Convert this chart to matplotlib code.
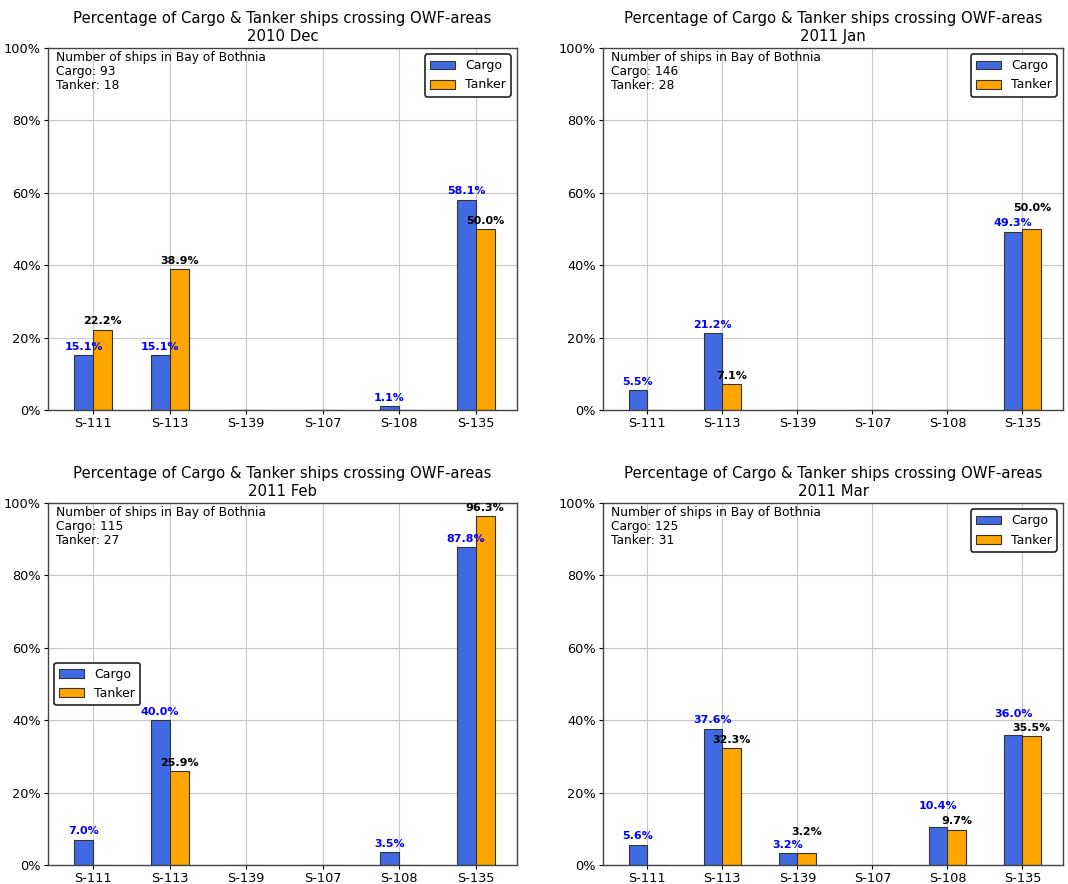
import numpy as np
import matplotlib
matplotlib.use('Agg')
import matplotlib.pyplot as plt
from matplotlib.ticker import PercentFormatter

areas = ['S-111', 'S-113', 'S-139', 'S-107', 'S-108', 'S-135']
months = ['2010 Dec', '2011 Jan', '2011 Feb', '2011 Mar']

cargo_dec = [15.1, 15.1, 0, 0, 1.1, 58.1]
tanker_dec = [22.2, 38.9, 0, 0, 0, 50.0]
cargo_jan = [5.5, 21.2, 0, 0, 0, 49.3]
tanker_jan = [0, 7.1, 0, 0, 0, 50.0]
cargo_feb = [7.0, 40.0, 0, 0, 3.5, 87.8]
tanker_feb = [0, 25.9, 0, 0, 0, 96.3]
cargo_mar = [5.6, 37.6, 3.2, 0, 10.4, 36.0]
tanker_mar = [0, 32.3, 3.2, 0, 9.7, 35.5]

n_cargo = [93, 146, 115, 125]
n_tanker = [18, 28, 27, 31]

cargoAll = [cargo_dec, cargo_jan, cargo_feb, cargo_mar]
tankerAll = [tanker_dec, tanker_jan, tanker_feb, tanker_mar]
legendLoc = ['upper right', 'upper right', 'center left', 'upper right']

W, H = 1068, 884
fig = plt.figure(figsize=(W / 100, H / 100), dpi=100)

# axes boxes in pixels: left, top, right, bottom
boxes = [(48, 48, 517, 410), (603, 48, 1063, 410),
         (48, 503, 517, 865), (603, 503, 1063, 865)]

width = 0.25
x = np.arange(len(areas))

for i, month in enumerate(months):
    l, t, r, b = boxes[i]
    ax = fig.add_axes([l / W, 1 - b / H, (r - l) / W, (b - t) / H])
    cargo = np.array(cargoAll[i])
    tanker = np.array(tankerAll[i])

    ax.bar(x - width / 2, cargo, width, color='royalblue', edgecolor='#333333',
           linewidth=0.8, label='Cargo')
    ax.bar(x + width / 2, tanker, width, color='orange', edgecolor='#333333',
           linewidth=0.8, label='Tanker')

    for j in range(len(areas)):
        c, tk = cargo[j], tanker[j]
        # push the higher label up when the two bars are nearly equal
        close = c > 0 and tk > 0 and abs(c - tk) < 3
        cBump = 9 if (close and c > tk) else 0
        tBump = 9 if (close and tk >= c) else 0
        if c > 0:
            ax.annotate('%.1f%%' % c, (x[j] - width / 2, c), xytext=(0, 2.5 + cBump),
                        textcoords='offset points', ha='center', va='bottom',
                        color='blue', fontsize=8, fontweight='bold')
        if tk > 0:
            ax.annotate('%.1f%%' % tk, (x[j] + width / 2, tk), xytext=(0, 2.5 + tBump),
                        textcoords='offset points', ha='center', va='bottom',
                        color='black', fontsize=8, fontweight='bold')

    ax.set_xticks(x)
    ax.set_xticklabels(areas)
    ax.set_xlim(-0.59, 5.54)
    ax.set_ylim(0, 100)
    ax.set_yticks(np.arange(0, 101, 20))
    ax.yaxis.set_major_formatter(PercentFormatter(decimals=0))
    ax.tick_params(labelsize=9.3, length=3, pad=2)
    ax.grid(True, color='#c8c8c8', linewidth=0.8)
    ax.set_axisbelow(True)
    for s in ax.spines.values():
        s.set_color('#444444')
        s.set_linewidth(1.0)

    ax.set_title('Percentage of Cargo & Tanker ships crossing OWF-areas\n' + month,
                 fontsize=10.7, pad=5, linespacing=1.25)
    ax.text(0.018, 0.992, 'Number of ships in Bay of Bothnia\nCargo: %d\nTanker: %d'
            % (n_cargo[i], n_tanker[i]), transform=ax.transAxes, ha='left', va='top',
            fontsize=8.8, linespacing=1.1)
    leg = ax.legend(loc=legendLoc[i], fontsize=9, framealpha=1, edgecolor='#222222')
    leg.get_frame().set_linewidth(1.2)

fig.savefig('out.png', dpi=100)
